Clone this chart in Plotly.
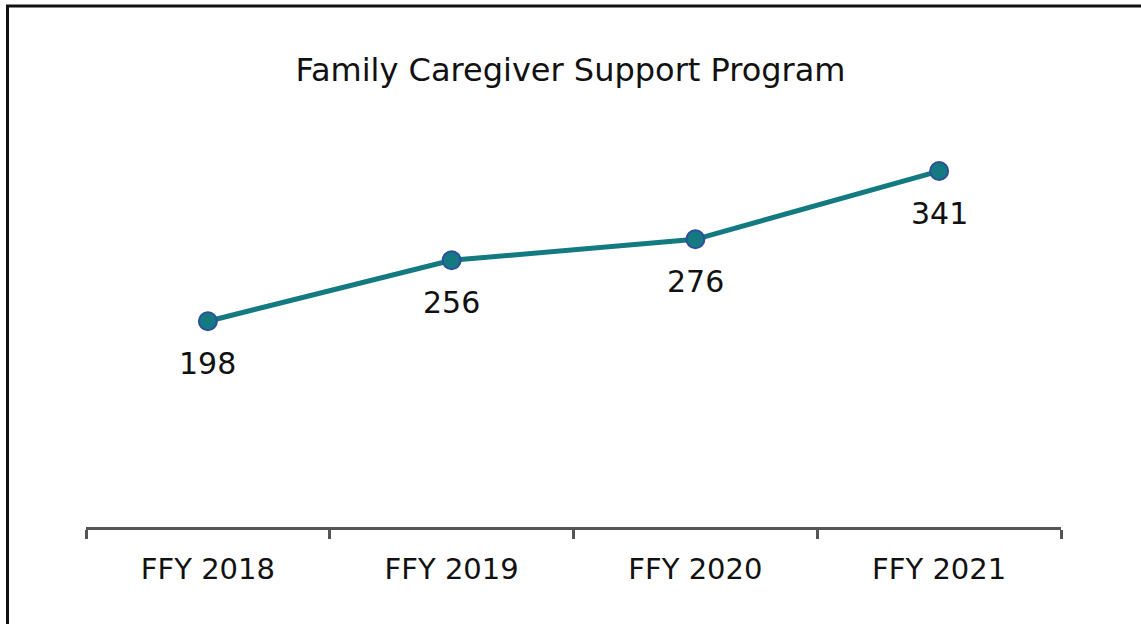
import plotly.graph_objects as go

categories = ["FFY 2018", "FFY 2019", "FFY 2020", "FFY 2021"]
values = [198, 256, 276, 341]
title_text = "Family Caregiver Support Program"

FONT = "'DejaVu Sans', sans-serif"

fig = go.Figure()
fig.add_trace(go.Scatter(
    x=categories, y=values, mode="lines+markers",
    line=dict(color="#127A80", width=5),
    marker=dict(size=18, color="#127A80", line=dict(color="#2F4F9A", width=2)),
    hoverinfo="skip", showlegend=False,
))

for c, v in zip(categories, values):
    fig.add_annotation(x=c, y=v, text=str(v), showarrow=False, yshift=-42,
                       font=dict(family=FONT, size=30, color="#111111"))

fig.add_shape(type="rect", xref="paper", yref="paper",
              x0=-0.0805, x1=1.1, y0=-0.4, y1=1.2405,
              line=dict(color="#111111", width=3), fillcolor="rgba(0,0,0,0)", layer="below")

fig.update_layout(
    width=1141, height=624,
    margin=dict(l=86, r=80, t=107, b=97),
    paper_bgcolor="white", plot_bgcolor="white",
    title=dict(text=title_text, x=0.5, xanchor="center", y=0.888, yanchor="middle",
               font=dict(family=FONT, size=32, color="#111111")),
    xaxis=dict(showgrid=False, zeroline=False, showline=True, linecolor="#555555", linewidth=3,
               ticks="outside", tickson="boundaries", ticklen=9, tickwidth=3, tickcolor="#555555",
               ticklabelstandoff=14,
               tickfont=dict(family=FONT, size=29, color="#111111"), range=[-0.5, 3.5]),
    yaxis=dict(visible=False, range=[2, 402], showgrid=False, zeroline=False),
)

fig.write_html("out.html", config={"displayModeBar": False},
               post_script="document.body.style.margin='0';document.body.style.overflow='hidden';")
